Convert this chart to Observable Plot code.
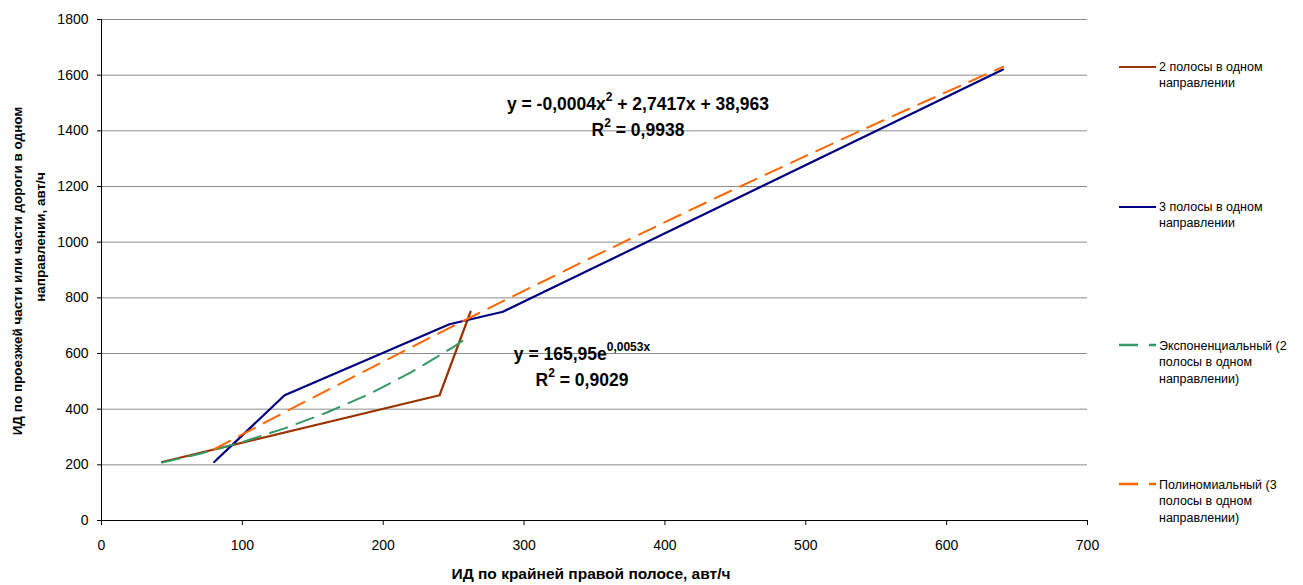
<!DOCTYPE html>
<html>
<head>
<meta charset="utf-8">
<script src="https://cdn.jsdelivr.net/npm/d3@7"></script>
<script src="https://cdn.jsdelivr.net/npm/@observablehq/plot@0.6"></script>
<style>
  html, body { margin: 0; padding: 0; background: #fff; }
  #chart { width: 1303px; height: 585px; }
  svg { font-family: "Liberation Sans", Arial, Helvetica, sans-serif; }
</style>
</head>
<body>
<div id="chart"></div>
<script>
// ---- Data ----
const xTicks = [0, 100, 200, 300, 400, 500, 600, 700];
const yTicks = [0, 200, 400, 600, 800, 1000, 1200, 1400, 1600, 1800];

// Series "2 полосы в одном направлении"
const twoLaneX = [43, 240, 262];
const twoLaneY = [210, 450, 750];

// Series "3 полосы в одном направлении"
const threeLaneX = [80, 130, 247, 285, 640];
const threeLaneY = [210, 450, 705, 750, 1620];

// Exponential trendline (2 lanes)
const expX = [43, 70, 100, 130, 160, 190, 220, 250, 262];
const expY = [208, 240, 282, 331, 388, 454, 533, 624, 665];

// Polynomial trendline (3 lanes)
const polyX = [80, 130, 200, 245, 285, 350, 400, 450, 500, 550, 600, 640];
const polyY = [256, 389, 571, 687, 788, 950, 1072, 1192, 1310, 1426, 1540, 1630];

const seriesNames = [
  "2 полосы в одном направлении",
  "3 полосы в одном направлении",
  "Экспоненциальный (2 полосы в одном направлении)",
  "Полиномиальный (3 полосы в одном направлении)"
];
const legendLines = [
  ["2 полосы в одном", "направлении"],
  ["3 полосы в одном", "направлении"],
  ["Экспоненциальный (2", "полосы в одном", "направлении)"],
  ["Полиномиальный (3", "полосы в одном", "направлении)"]
];
const colors = ["#993300", "#000080", "#339966", "#FF6600"];

const xLabel = "ИД по крайней правой полосе, авт/ч";
const yLabelLines = ["ИД по проезжей части или части дороги в одном", "направлении, авт/ч"];

const toRows = (xs, ys) => xs.map((x, i) => ({x, y: ys[i]}));
const twoLane = toRows(twoLaneX, twoLaneY);
const threeLane = toRows(threeLaneX, threeLaneY);
const expTrend = toRows(expX, expY);
const polyTrend = toRows(polyX, polyY);

const plot = Plot.plot({
  width: 1303,
  height: 585,
  marginLeft: 101,
  marginRight: 216,
  marginTop: 19,
  marginBottom: 65,
  style: {fontFamily: '"Liberation Sans", Arial, sans-serif', fontSize: "14px", color: "#000", background: "#fff"},
  x: {domain: [0, 700]},
  y: {domain: [0, 1800]},
  marks: [
    Plot.ruleY(yTicks.filter(d => d > 0), {stroke: "#8c8c8c", strokeWidth: 1}),
    Plot.axisY({ticks: yTicks, tickFormat: d => String(d), tickSize: 4, tickPadding: 9, label: null, fontSize: 14, stroke: "#000"}),
    Plot.axisX({ticks: xTicks, tickFormat: d => String(d), tickSize: 5, tickPadding: 15, label: null, fontSize: 14, stroke: "#000"}),
    Plot.ruleX([0], {stroke: "#000", strokeWidth: 1}),
    Plot.ruleY([0], {stroke: "#000", strokeWidth: 1}),
    Plot.line(twoLane, {x: "x", y: "y", stroke: colors[0], strokeWidth: 2.2}),
    Plot.line(threeLane, {x: "x", y: "y", stroke: colors[1], strokeWidth: 2.2}),
    Plot.line(expTrend, {x: "x", y: "y", stroke: colors[2], strokeWidth: 2, strokeDasharray: "18,10"}),
    Plot.line(polyTrend, {x: "x", y: "y", stroke: colors[3], strokeWidth: 2, strokeDasharray: "18,10"})
  ]
});

document.getElementById("chart").appendChild(plot);
const svg = d3.select(plot);

// Axis titles
svg.append("text")
  .attr("x", 591).attr("y", 575)
  .attr("text-anchor", "middle").attr("dominant-baseline", "middle")
  .attr("font-weight", "bold").attr("font-size", 15.5).attr("fill", "#000")
  .text(xLabel);

const yCenters = [[18, 271], [41, 237]];
yLabelLines.forEach((t, i) => {
  svg.append("text")
    .attr("transform", `translate(${yCenters[i][0]},${yCenters[i][1]}) rotate(-90)`)
    .attr("text-anchor", "middle").attr("dominant-baseline", "middle")
    .attr("font-weight", "bold").attr("font-size", 13.5).attr("fill", "#000")
    .text(t);
});

// Trendline equations
function eqText(x, y, parts) {
  const t = svg.append("text")
    .attr("x", x).attr("y", y)
    .attr("text-anchor", "middle").attr("dominant-baseline", "middle")
    .attr("font-weight", "bold").attr("font-size", 17.5).attr("fill", "#000");
  let shift = 0;
  parts.forEach(p => {
    if (p.sup) {
      t.append("tspan").attr("font-size", 12).attr("dy", -7).text(p.sup);
      shift = 7;
    } else {
      t.append("tspan").attr("dy", shift).text(p.t);
      shift = 0;
    }
  });
}
eqText(638, 105, [{t: "y = -0,0004x"}, {sup: "2"}, {t: " + 2,7417x + 38,963"}]);
eqText(638, 131, [{t: "R"}, {sup: "2"}, {t: " = 0,9938"}]);
eqText(582, 355, [{t: "y = 165,95e"}, {sup: "0,0053x"}]);
eqText(582, 381, [{t: "R"}, {sup: "2"}, {t: " = 0,9029"}]);

// Legend
const legendY = [67, 207, 345, 484];
legendLines.forEach((lines, i) => {
  const g = svg.append("g");
  const dashed = i >= 2;
  g.append("line")
    .attr("x1", 1119).attr("x2", 1156)
    .attr("y1", legendY[i]).attr("y2", legendY[i])
    .attr("stroke", colors[i]).attr("stroke-width", dashed ? 2.5 : 2.2)
    .attr("stroke-dasharray", dashed ? "19,11" : null);
  const t = g.append("text")
    .attr("x", 1159).attr("y", legendY[i] + (i >= 2 ? 2 : 1))
    .attr("font-size", 12.5).attr("fill", "#000")
    .attr("text-anchor", "start")
    .attr("dominant-baseline", "middle");
  t.append("title").text(seriesNames[i]);
  lines.forEach((l, j) => {
    t.append("tspan").attr("x", 1159).attr("dy", j === 0 ? 0 : 16.3).text(l);
  });
});
</script>
</body>
</html>
